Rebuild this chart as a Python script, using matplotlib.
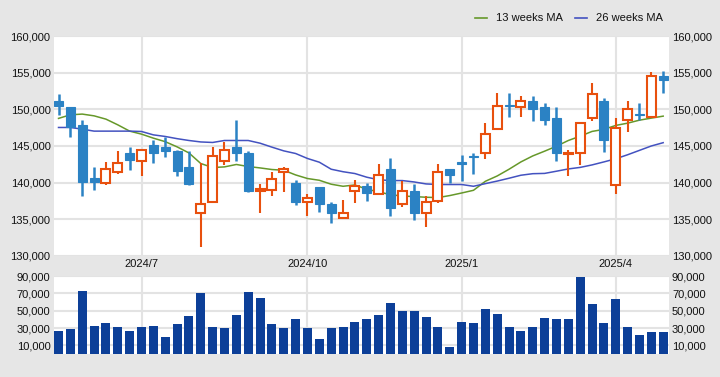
import numpy as np
import pandas as pd
import matplotlib
matplotlib.use("Agg")
import matplotlib.pyplot as plt
from matplotlib.lines import Line2D
from matplotlib.ticker import FuncFormatter, FixedLocator

# weekly candles, 2024-05-13 .. 2025-05-05
weeks = pd.date_range("2024-05-13", periods=52, freq="W-MON")

opens = [151100, 150300, 147800, 140600, 140000, 141500, 144000, 143000, 145100, 144800,
         144300, 142100, 135800, 137300, 143000, 144800, 144000, 138800, 139000, 141500,
         140000, 137300, 139400, 137000, 135200, 138800, 139500, 138500, 141800, 137000,
         138800, 135800, 137500, 141800, 142800, 143600, 144000, 147300, 150600, 150300,
         151100, 150300, 148800, 143900, 144000, 148800, 151100, 139700, 148500, 149400,
         149000, 154600]
closes = [150400, 147600, 140100, 140100, 141800, 142700, 143100, 144500, 144100, 144300,
          141600, 139800, 137000, 143600, 144500, 144100, 138800, 139100, 140500, 141800,
          137300, 137900, 137100, 135800, 135800, 139500, 138600, 141000, 136500, 138800,
          135800, 137300, 141500, 141000, 142600, 143500, 146600, 150500, 150400, 151100,
          150100, 148600, 144100, 144000, 148100, 152100, 145800, 147500, 150000, 149200,
          154500, 154000]
highs = [152100, 150300, 148500, 142100, 142800, 144300, 144800, 144500, 145800, 146200,
         144500, 144300, 142700, 144800, 145500, 148500, 144300, 139800, 141500, 142100,
         140300, 138500, 139400, 137300, 137600, 140300, 140000, 142500, 143300, 140200,
         139800, 138200, 142500, 141800, 143800, 144000, 148100, 152300, 152300, 151800,
         151800, 150900, 150300, 144500, 148100, 153600, 151500, 148800, 151100, 150900,
         155100, 155300]
lows = [149300, 146200, 138200, 139000, 139700, 141200, 141700, 140900, 142700, 143500,
        140900, 139600, 131200, 137300, 142400, 142900, 138700, 135900, 138200, 138700,
        136900, 135400, 136000, 134500, 135200, 137200, 137500, 138500, 135400, 136700,
        134900, 133900, 137200, 139900, 140200, 141200, 143200, 147300, 149000, 149000,
        148400, 147800, 143000, 140900, 142400, 148400, 144200, 138400, 146900, 148500,
        149000, 152300]

ma13 = [148770, 149260, 149360, 149120, 148670, 147890, 147030, 146620, 146070, 145590,
        144880, 144050, 142600, 142050, 142140, 142470, 142190, 142000, 141780, 141680,
        141040, 140550, 140310, 139770, 139490, 139670, 139080, 138740, 138330, 138160,
        138080, 137990, 137940, 138220, 138570, 138940, 140170, 140900, 141820, 142820,
        143640, 144290, 144970, 145750, 146340, 146990, 147270, 147810, 148120, 148530,
        148810, 149080]
ma26 = [147530, 147530, 147300, 147030, 147030, 147030, 147030, 146980, 146520, 146300,
        146000, 145750, 145550, 145480, 145750, 145750, 145750, 145380, 144840, 144330,
        143970, 143290, 142780, 141820, 141480, 141230, 140730, 140380, 140270, 140270,
        140080, 139810, 139730, 139730, 139730, 139490, 139850, 140200, 140590, 141000,
        141210, 141250, 141550, 141860, 142070, 142410, 142820, 143250, 143800, 144400,
        145000, 145450]

volumes = [26500, 28900, 72700, 32300, 35800, 31200, 26500, 31200, 32300, 19600,
           34600, 43900, 70400, 31200, 30000, 45000, 71500, 64600, 34600, 30000,
           40400, 30000, 17300, 30000, 31200, 36900, 40400, 45000, 58900, 49600,
           49600, 42700, 31200, 8100, 36900, 35800, 51900, 46200, 31200, 26500,
           31200, 41500, 40400, 40400, 88900, 57700, 35800, 63500, 31200, 21900,
           25400, 25400]

UP = "#e8500e"
DOWN = "#2b82c4"
VOL = "#0c3f98"
GREEN = "#66982a"
BLUE = "#4352c0"
GRID = "#e3e3e3"
BG = "#e6e6e6"

plt.rcParams["font.family"] = ["Liberation Sans", "DejaVu Sans"]
plt.rcParams["font.size"] = 8

fig = plt.figure(figsize=(7.2, 3.77), dpi=100, facecolor=BG)
ax = fig.add_axes([0.075, 0.3218, 0.8535, 0.582])
axv = fig.add_axes([0.075, 0.061, 0.8535, 0.2069])

x = np.arange(len(weeks))
o = np.array(opens)
c = np.array(closes)
hi = np.array(highs)
lo = np.array(lows)
up = c >= o
bw = 0.76

# wicks first, bodies drawn over them
ax.vlines(x[up], lo[up], hi[up], color=UP, lw=1.5, zorder=3)
ax.vlines(x[~up], lo[~up], hi[~up], color=DOWN, lw=1.8, zorder=3)
ax.bar(x[up], (c - o)[up], bottom=o[up], width=bw, facecolor="white",
       edgecolor=UP, linewidth=1.5, zorder=4)
ax.bar(x[~up], (o - c)[~up], bottom=c[~up], width=bw, facecolor=DOWN,
       edgecolor=DOWN, linewidth=0.8, zorder=4)

ax.plot(x, ma13, color=GREEN, lw=1.1, zorder=2)
ax.plot(x, ma26, color=BLUE, lw=1.1, zorder=2)

axv.bar(x, volumes, width=bw, color=VOL, zorder=3)

# month ticks at first week of Jan/Apr/Jul/Oct
tick_idx = [i for i in range(1, len(weeks))
            if weeks[i].month != weeks[i - 1].month and weeks[i].month in (1, 4, 7, 10)]
tick_lbl = [f"{weeks[i].year}/{weeks[i].month}" for i in tick_idx]

fmt = FuncFormatter(lambda v, p: f"{int(v):,}")
for a in (ax, axv):
    a.set_facecolor("white")
    a.set_xlim(-0.38, 51.45)
    for s in a.spines.values():
        s.set_visible(False)
    a.grid(True, color=GRID, lw=1.5, zorder=0)
    a.set_axisbelow(True)
    a.xaxis.set_major_locator(FixedLocator(tick_idx))
    a.yaxis.set_major_formatter(fmt)
    a.tick_params(axis="both", length=0, labelsize=8, colors="#111111",
                  left=True, right=True, labelleft=True, labelright=True, pad=2.5)

ax.set_ylim(130000, 160000)
ax.set_yticks(np.arange(130000, 160001, 5000))
ax.set_xticklabels(tick_lbl)
ax.tick_params(axis="x", pad=2.5)

axv.set_ylim(0, 90000)
axv.set_yticks(np.arange(10000, 90001, 20000))
axv.set_xticklabels([])

# legend drawn by hand at the top right
leg_y = 1 - 18 / 377
for x0, col, txt in [(475, GREEN, "13 weeks MA"), (575, BLUE, "26 weeks MA")]:
    fig.add_artist(Line2D([x0 / 720, (x0 + 12) / 720], [leg_y, leg_y], color=col, lw=1.2))
    fig.text((x0 + 21) / 720, leg_y, txt, va="center", ha="left", fontsize=8, color="#111111")

fig.savefig("out.png", dpi=100, facecolor=BG)
